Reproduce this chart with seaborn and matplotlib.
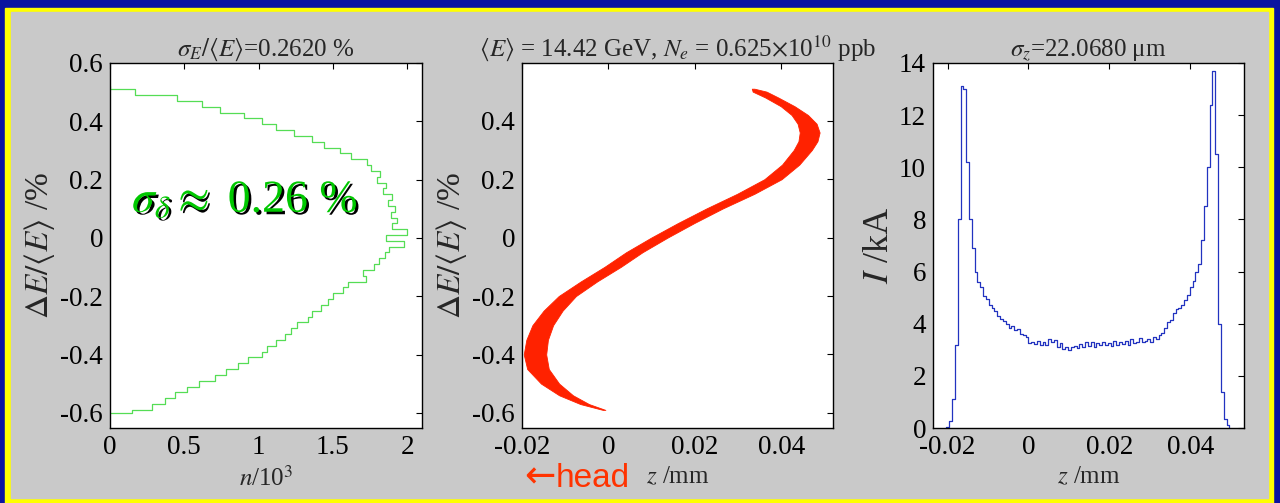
import numpy as np
import matplotlib
matplotlib.use("Agg")
import matplotlib.pyplot as plt
import matplotlib.patheffects as pe
from matplotlib.patches import Rectangle
import seaborn as sns

# ---------------- data ----------------
# Panel 1: energy histogram (delta level in %, counts in 10^3)
delta_levels = [0.51, 0.49, 0.47, 0.45, 0.43, 0.41, 0.39, 0.37, 0.35, 0.33, 0.31, 0.29,
                0.27, 0.25, 0.23, 0.21, 0.19, 0.17, 0.15, 0.13, 0.11, 0.09, 0.07, 0.05,
                0.03, 0.01, -0.01, -0.03, -0.05, -0.07, -0.09, -0.11, -0.13, -0.15, -0.17,
                -0.19, -0.21, -0.23, -0.25, -0.27, -0.29, -0.31, -0.33, -0.35, -0.37, -0.39,
                -0.41, -0.43, -0.45, -0.47, -0.49, -0.51, -0.53, -0.55, -0.57, -0.59]
n_counts = [0.17, 0.45, 0.62, 0.74, 0.90, 1.02, 1.12, 1.24, 1.36, 1.44, 1.55, 1.62,
            1.73, 1.76, 1.82, 1.80, 1.86, 1.84, 1.90, 1.87, 1.92, 1.89, 1.93, 1.90,
            2.00, 1.86, 1.98, 1.88, 1.85, 1.81, 1.78, 1.70, 1.72, 1.60, 1.57,
            1.50, 1.47, 1.42, 1.36, 1.33, 1.26, 1.22, 1.18, 1.12, 1.06, 1.02,
            0.93, 0.86, 0.78, 0.71, 0.60, 0.52, 0.44, 0.37, 0.28, 0.15]
delta_top_edge = 0.52
delta_bottom_edge = -0.60

# Panel 2: longitudinal phase space band (centre line and half width)
band_delta = [0.51, 0.50, 0.48, 0.45, 0.42, 0.39, 0.36, 0.33, 0.30, 0.25, 0.20, 0.15,
              0.10, 0.05, 0.00, -0.05, -0.10, -0.15, -0.20, -0.25, -0.30, -0.35, -0.40,
              -0.45, -0.50, -0.54, -0.57, -0.59]
band_z = [0.0335, 0.0350, 0.0378, 0.0415, 0.0443, 0.0460, 0.0466, 0.0462, 0.0450, 0.0422,
          0.0381, 0.0318, 0.0246, 0.0180, 0.0118, 0.0060, 0.0010, -0.0045, -0.0095,
          -0.0128, -0.0152, -0.0165, -0.0170, -0.0163, -0.0135, -0.0098, -0.0055, -0.0010]
band_hw = [0.0003, 0.0016, 0.0015, 0.0016, 0.0019, 0.0022, 0.0023, 0.0022, 0.0021, 0.0020,
           0.0020, 0.0020, 0.0019, 0.0019, 0.0019, 0.0019, 0.0019, 0.0019, 0.0020, 0.0022,
           0.0024, 0.0025, 0.0026, 0.0025, 0.0021, 0.0016, 0.0010, 0.0003]

# Panel 3: current profile (kA) in bins of z
z_start = -0.0203
z_binwidth = 0.0007
current_kA = [0.05, 0.25, 1.1, 3.2, 8.0, 13.1, 13.0, 10.2, 8.0, 6.9,
              6.0, 5.6, 5.4, 5.05, 4.95, 4.72, 4.62, 4.5, 4.3, 4.18,
              4.1, 3.98, 3.85, 3.9, 3.75, 3.78, 3.62, 3.55, 3.5, 3.25,
              3.3, 3.22, 3.35, 3.18, 3.3, 3.2, 3.42, 3.3, 3.38, 3.1,
              3.25, 3.02, 3.12, 2.98, 3.1, 3.15, 3.08, 3.22, 3.12, 3.28,
              3.15, 3.3, 3.12, 3.25, 3.18, 3.3, 3.2, 3.25, 3.15, 3.32,
              3.2, 3.28, 3.22, 3.35, 3.2, 3.42, 3.25, 3.3, 3.45, 3.28,
              3.35, 3.42, 3.3, 3.48, 3.4, 3.55, 3.65, 3.85, 4.05, 4.15,
              4.4, 4.55, 4.6, 4.72, 4.9, 5.1, 5.4, 5.65, 6.0, 6.3,
              7.2, 8.5, 10.0, 12.4, 13.7, 10.5, 4.0, 1.4, 0.35, 0.1]

# tick labels
p1_xticks = [0, 0.5, 1, 1.5, 2]
p1_xtick_labels = ["0", "0.5", "1", "1.5", "2"]
p1_yticks = [-0.6, -0.4, -0.2, 0, 0.2, 0.4, 0.6]
p1_ytick_labels = ["-0.6", "-0.4", "-0.2", "0", "0.2", "0.4", "0.6"]
p2_xticks = [-0.02, 0, 0.02, 0.04]
p2_xtick_labels = ["-0.02", "0", "0.02", "0.04"]
p2_yticks = [-0.6, -0.4, -0.2, 0, 0.2, 0.4]
p2_ytick_labels = ["-0.6", "-0.4", "-0.2", "0", "0.2", "0.4"]
p3_xticks = [-0.02, 0, 0.02, 0.04]
p3_xtick_labels = ["-0.02", "0", "0.02", "0.04"]
p3_yticks = [0, 2, 4, 6, 8, 10, 12, 14]
p3_ytick_labels = ["0", "2", "4", "6", "8", "10", "12", "14"]

# ---------------- style ----------------
sns.set_style("white")
plt.rcParams["font.family"] = ["Liberation Serif", "DejaVu Serif"]
plt.rcParams["mathtext.fontset"] = "stix"
plt.rcParams["axes.unicode_minus"] = False

W, H = 1280, 503
fig = plt.figure(figsize=(W / 100, H / 100), dpi=100)
fig.patch.set_facecolor("#0A14A0")
fig.patches.append(Rectangle((5 / W, 0), (1273 - 5) / W, (503 - 8) / H,
                             transform=fig.transFigure, color="#FFFF00", zorder=-10))
fig.patches.append(Rectangle((11 / W, 5 / H), (1268 - 11) / W, (498 - 12) / H,
                             transform=fig.transFigure, color="#C9C9C9", zorder=-9))


def make_axes(x0, x1, y0=63, y1=428):
    return fig.add_axes([x0 / W, 1 - y1 / H, (x1 - x0) / W, (y1 - y0) / H])


FS = 19.5     # tick labels
TFS = 18      # titles
XFS = 18      # x labels
YFS = 24      # y labels


def style(ax, xt, xtl, yt, ytl):
    ax.set_facecolor("white")
    for s in ax.spines.values():
        s.set_visible(True)
        s.set_color("black")
        s.set_linewidth(1.0)
    ax.set_xticks(xt)
    ax.set_xticklabels(xtl)
    ax.set_yticks(yt)
    ax.set_yticklabels(ytl)
    ax.tick_params(direction="in", top=True, right=True, length=4, width=0.8,
                   labelsize=FS, pad=5, colors="black")


# ---------------- Panel 1 ----------------
ax1 = make_axes(110, 422)
x1 = [0.0] + n_counts + [0.0]
y1 = [delta_top_edge] + delta_levels + [delta_bottom_edge]
sns.lineplot(x=x1, y=y1, sort=False, estimator=None, ax=ax1, color="#55DD55",
             lw=0.9, drawstyle="steps-pre")
ax1.set_xlim(0, 2.1)
ax1.set_ylim(-0.652, 0.6)
style(ax1, p1_xticks, p1_xtick_labels, p1_yticks, p1_ytick_labels)
ax1.set_title(r"$\sigma_E/\langle E\rangle$=0.2620 %", fontsize=TFS, pad=5)
ax1.set_xlabel(r"$n$/10$^3$", fontsize=XFS, labelpad=4)
ax1.set_ylabel(r"$\Delta E/\langle E\rangle$ /%", fontsize=YFS, labelpad=2)
ax1.text(0.148, 0.089, r"$\sigma_\delta\approx$ 0.26 %", fontsize=33, color="#00C800",
         ha="left", va="baseline",
         path_effects=[pe.SimplePatchShadow(offset=(1.8, -1.8), shadow_rgbFace="black", alpha=1.0),
                       pe.Normal()])

# ---------------- Panel 2 ----------------
ax2 = make_axes(522, 833)
z_lo = [c - h for c, h in zip(band_z, band_hw)]
z_hi = [c + h for c, h in zip(band_z, band_hw)]
ax2.fill_betweenx(band_delta, z_lo, z_hi, color="#FF2200", lw=0.6, edgecolor="#FF2200")
ax2.set_xlim(-0.02, 0.052)
ax2.set_ylim(-0.652, 0.598)
style(ax2, p2_xticks, p2_xtick_labels, p2_yticks, p2_ytick_labels)
ax2.set_title(r"$\langle E\rangle$ = 14.42 GeV, $N_e$ = 0.625$\times$10$^{10}$ ppb",
              fontsize=TFS, pad=5)
ax2.set_xlabel(r"$z$ /mm", fontsize=XFS, labelpad=4)
ax2.set_ylabel(r"$\Delta E/\langle E\rangle$ /%", fontsize=YFS, labelpad=2)
ax2.text(0.006, -0.162, "\u2190", transform=ax2.transAxes, fontsize=27,
         color="#FF3300", ha="left", va="baseline", family=["DejaVu Sans"])
ax2.text(0.345, -0.162, "head", transform=ax2.transAxes, fontsize=24,
         color="#FF3300", ha="right", va="baseline",
         family=["Liberation Sans Narrow", "Liberation Sans", "DejaVu Sans"])

# ---------------- Panel 3 ----------------
ax3 = make_axes(933, 1244)
edges = [round(z_start + z_binwidth * k, 5) for k in range(len(current_kA) + 1)]
x3 = [edges[0]] + edges
y3 = [0.0] + current_kA + [0.0]
sns.lineplot(x=x3, y=y3, sort=False, estimator=None, ax=ax3, color="#2233C0",
             lw=0.9, drawstyle="steps-post")
ax3.set_xlim(-0.0236, 0.0533)
ax3.set_ylim(0, 14)
style(ax3, p3_xticks, p3_xtick_labels, p3_yticks, p3_ytick_labels)
ax3.set_title(r"$\sigma_z$=22.0680 μm", fontsize=TFS, pad=5)
ax3.set_xlabel(r"$z$ /mm", fontsize=XFS, labelpad=4)
ax3.set_ylabel(r"$I$ /kA", fontsize=26, labelpad=2)

fig.savefig("out.png", dpi=100, facecolor=fig.get_facecolor())
